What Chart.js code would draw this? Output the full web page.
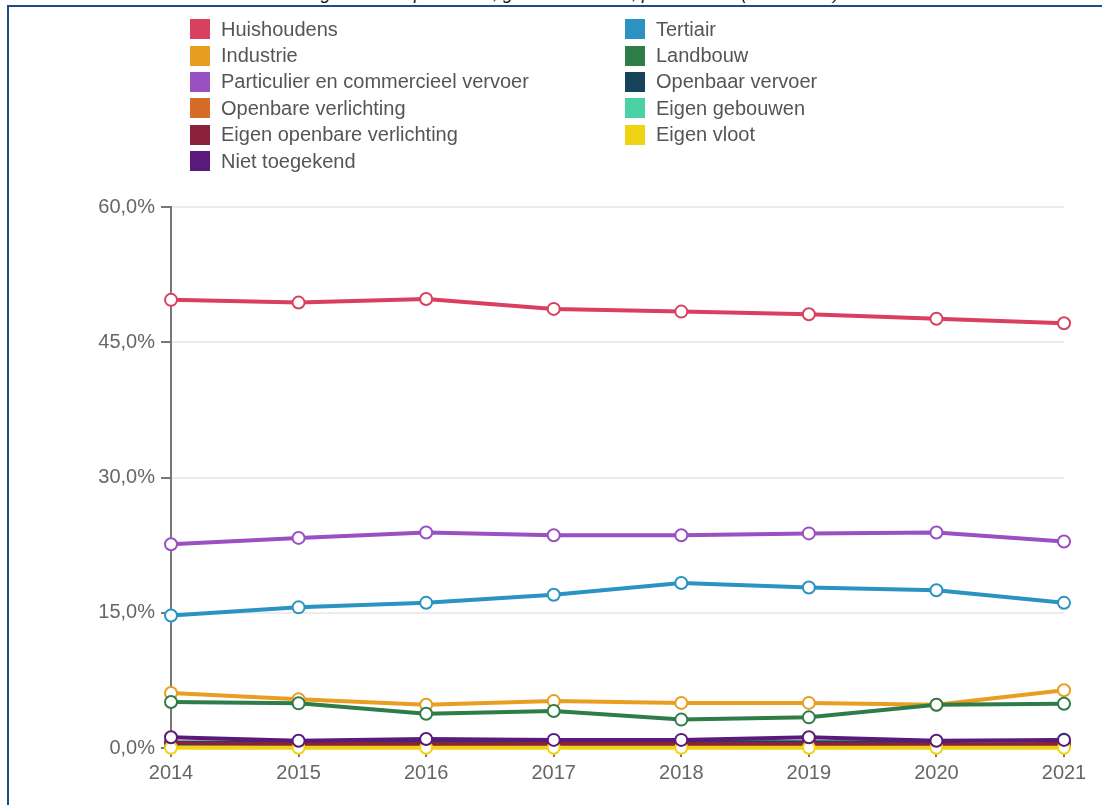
<!DOCTYPE html>
<html>
<head>
<meta charset="utf-8">
<script src="https://cdn.jsdelivr.net/npm/chart.js@4/dist/chart.umd.min.js"></script>
<style>
  html, body { margin: 0; padding: 0; background: #fff; overflow: hidden; }
  body { width: 1102px; height: 805px; position: relative; font-family: "Liberation Sans", Arial, sans-serif; }
  #title { position: absolute; left: 0; width: 1102px; top: -17px; text-align: center;
           font: italic 18px/20px "Liberation Sans", Arial, sans-serif; color: #111; padding-left: 10px; }
  #frame { position: absolute; left: 7px; top: 5px; width: 1200px; height: 900px;
           border-top: 2px solid #224b86; border-left: 2px solid #224b86; }
  #chart { position: absolute; left: 0; top: 0; }
  #legend { position: absolute; left: 190px; top: 16px; display: grid;
            grid-template-columns: 435px 435px; grid-auto-rows: 26.4px; }
  .item { display: flex; align-items: center; font-size: 20px; color: #555; white-space: nowrap; }
  .box { width: 20px; height: 20px; margin-right: 11px; flex: none; }
</style>
</head>
<body>
<div id="title">Energieverbruik per sector, gemeente totaal, procentueel (2014-2021)</div>
<div id="frame"></div>
<canvas id="chart" width="1102" height="805"></canvas>
<div id="legend"></div>
<script>
// categories
const years = ['2014', '2015', '2016', '2017', '2018', '2019', '2020', '2021'];

// series values (% share)
const huishoudens = [49.7, 49.4, 49.8, 48.7, 48.4, 48.1, 47.6, 47.1];
const tertiair = [14.7, 15.6, 16.1, 17.0, 18.3, 17.8, 17.5, 16.1];
const industrie = [6.1, 5.4, 4.8, 5.2, 5.0, 5.0, 4.8, 6.4];
const landbouw = [5.1, 4.95, 3.8, 4.1, 3.15, 3.4, 4.8, 4.9];
const particulierVervoer = [22.6, 23.3, 23.9, 23.6, 23.6, 23.8, 23.9, 22.9];
const openbaarVervoer = [0.6, 0.6, 0.6, 0.6, 0.65, 0.65, 0.6, 0.7];
const openbareVerlichting = [0.4, 0.35, 0.35, 0.35, 0.35, 0.35, 0.3, 0.3];
const eigenGebouwen = [0.3, 0.3, 0.3, 0.3, 0.3, 0.3, 0.25, 0.95];
const eigenOpenbareVerlichting = [0.5, 0.45, 0.45, 0.45, 0.45, 0.45, 0.4, 0.45];
const eigenVloot = [0.02, 0.02, 0.02, 0.02, 0.02, 0.02, 0.02, 0.02];
const nietToegekend = [1.2, 0.8, 1.0, 0.9, 0.9, 1.2, 0.8, 0.9];

// tick labels
const yTicks = [0, 15, 30, 45, 60];

const series = [
  { label: 'Huishoudens', data: huishoudens, color: '#d9405f' },
  { label: 'Tertiair', data: tertiair, color: '#2a93c1' },
  { label: 'Industrie', data: industrie, color: '#e99e22' },
  { label: 'Landbouw', data: landbouw, color: '#2e7d48' },
  { label: 'Particulier en commercieel vervoer', data: particulierVervoer, color: '#9a4fc3' },
  { label: 'Openbaar vervoer', data: openbaarVervoer, color: '#16435a' },
  { label: 'Openbare verlichting', data: openbareVerlichting, color: '#d56d28' },
  { label: 'Eigen gebouwen', data: eigenGebouwen, color: '#4cd0a5' },
  { label: 'Eigen openbare verlichting', data: eigenOpenbareVerlichting, color: '#8a2339' },
  { label: 'Eigen vloot', data: eigenVloot, color: '#f0d414' },
  { label: 'Niet toegekend', data: nietToegekend, color: '#5a1a7b' },
];

const fmt = (v) => v.toFixed(1).replace('.', ',') + '%';
const tickFont = { family: 'Liberation Sans', size: 20 };

const chart = new Chart(document.getElementById('chart'), {
  type: 'line',
  data: {
    labels: years,
    datasets: series.map((s, i) => ({
      label: s.label,
      data: s.data,
      borderColor: s.color,
      backgroundColor: s.color,
      borderWidth: 4,
      pointRadius: 6,
      pointBorderWidth: 2,
      pointBackgroundColor: '#fff',
      pointBorderColor: s.color,
      tension: 0,
      clip: false,
      order: -i, // later series drawn on top
    })),
  },
  options: {
    responsive: false,
    animation: false,
    layout: { padding: { top: 207, right: 38, left: 0, bottom: 0 } },
    plugins: { legend: { display: false }, tooltip: { enabled: false } },
    scales: {
      x: {
        offset: false,
        grid: { drawOnChartArea: false, drawTicks: true, tickLength: 9, tickColor: '#777', lineWidth: 2 },
        border: { display: false },
        ticks: { color: '#666', font: tickFont, padding: 4, maxRotation: 0 },
        afterFit: (s) => { s.height = 57; },
      },
      y: {
        min: 0,
        max: 60,
        afterBuildTicks: (s) => { s.ticks = yTicks.map((v) => ({ value: v })); },
        grid: { color: '#ececec', lineWidth: 2, tickColor: '#777', tickLength: 10 },
        border: { display: true, color: '#777', width: 2 },
        ticks: { color: '#666', font: tickFont, padding: 6, callback: (v) => fmt(v) },
        afterFit: (s) => { s.width = 171; },
      },
    },
  },
});

// legend in two columns, row by row
const legend = document.getElementById('legend');
series.forEach((s) => {
  const item = document.createElement('div');
  item.className = 'item';
  item.innerHTML = '<span class="box" style="background:' + s.color + '"></span>' + s.label;
  legend.appendChild(item);
});
</script>
</body>
</html>
